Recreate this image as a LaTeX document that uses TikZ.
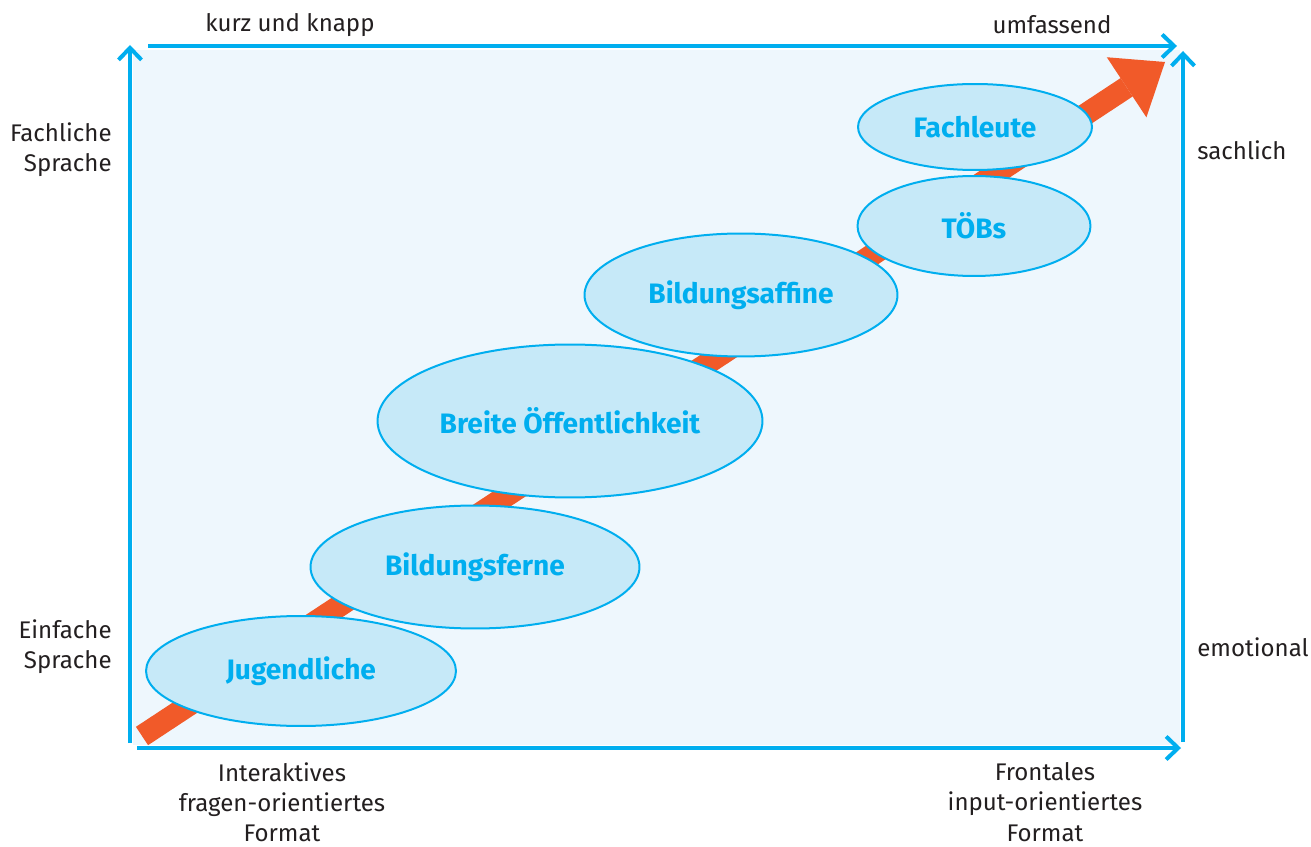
\documentclass[tikz,border=0pt]{standalone}
\usepackage{fontspec}
\setmainfont{Fira Sans}
\usetikzlibrary{arrows.meta,shapes.geometric}
\definecolor{axisblue}{HTML}{00AEEF}
\definecolor{panelblue}{HTML}{EEF7FD}
\definecolor{bubble}{HTML}{C6E9F8}
\definecolor{trend}{HTML}{F15A29}
\definecolor{txt}{HTML}{231F20}

\begin{document}
\begin{tikzpicture}[x=0.02cm,y=-0.02cm,
    axis/.style={axisblue, line width=0.08cm, -{Straight Barb[length=0.24cm,width=0.46cm]}},
    group/.style={ellipse, draw=axisblue, line width=0.04cm, fill=bubble, text=axisblue,
        font=\bfseries\fontsize{16}{19}\selectfont, inner sep=0pt},
    lbl/.style={text=txt, font=\fontsize{13.7}{17.2}\selectfont, inner sep=0pt}]
    \useasboundingbox (0,0) rectangle (1311,847);
    % panel
    \fill[panelblue] (133,50) rectangle (1180,745);
    % trend arrow
    \coordinate (trendstart) at (142,736);
    \coordinate (trendtip) at (1165,62);
    \draw[trend, line width=0.44cm, -{Triangle[length=0.92cm,width=1.44cm,line width=0pt]}] (trendstart) -- (trendtip);
    % groups
    \node[group, minimum width=6.2cm, minimum height=2.2cm] (jugend) at (301,671) {Jugendliche};
    \node[group, minimum width=6.58cm, minimum height=2.46cm] (ferne) at (475,567) {Bildungsferne};
    \node[group, minimum width=7.7cm, minimum height=3.06cm] (breite) at (570,421) {Breite Öffentlichkeit};
    \node[group, minimum width=6.26cm, minimum height=2.46cm] (affine) at (741,295) {Bildungsaffine};
    \node[group, minimum width=4.66cm, minimum height=2.0cm] (toebs) at (974,226) {TÖBs};
    \node[group, minimum width=4.68cm, minimum height=1.72cm] (fachleute) at (975,127) {Fachleute};
    % axes
    \coordinate (leftfoot) at (130,743);
    \coordinate (lefttop) at (130,45);
    \coordinate (topstart) at (148,46);
    \coordinate (topend) at (1177,46);
    \coordinate (rightfoot) at (1183,742);
    \coordinate (righttop) at (1183,51);
    \coordinate (bottomstart) at (137,748);
    \coordinate (bottomend) at (1181,748);
    \draw[axis] (leftfoot) -- (lefttop);
    \draw[axis] (topstart) -- (topend);
    \draw[axis] (rightfoot) -- (righttop);
    \draw[axis] (bottomstart) -- (bottomend);
    % labels
    \node[lbl] (kurz) at (290,25) {kurz und knapp};
    \node[lbl] (umfassend) at (1052,25) {umfassend};
    \node[lbl, anchor=east, align=right] (fachlich) at (112,150) {Fachliche\\Sprache};
    \node[lbl, anchor=east, align=right] (einfach) at (112,647) {Einfache\\Sprache};
    \node[lbl, anchor=west] (sachlich) at (1197,150) {sachlich};
    \node[lbl, anchor=west] (emotional) at (1197,647) {emotional};
    \node[lbl, align=center] (interaktiv) at (282,802) {Interaktives\\fragen-orientiertes\\Format};
    \node[lbl, align=center] (frontal) at (1045,802) {Frontales\\input-orientiertes\\Format};
\end{tikzpicture}
\end{document}
